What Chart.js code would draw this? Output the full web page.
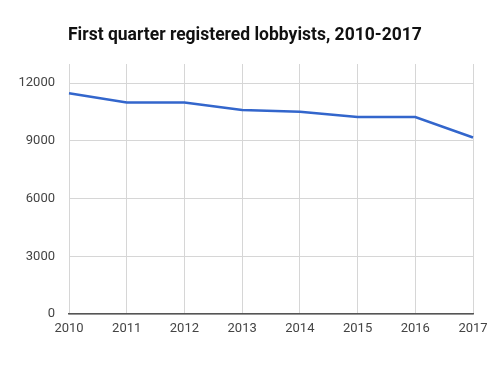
<!DOCTYPE html>
<html>
<head>
<meta charset="utf-8">
<script src="https://cdn.jsdelivr.net/npm/chart.js@4"></script>
<style>
    body { margin: 0; background: #fff; }
    #wrap { position: relative; width: 496px; height: 366px; }
    #title {
        position: absolute; left: 68px; top: 24px;
        font: bold 17.5px Roboto, sans-serif; color: #111;
    }
</style>
</head>
<body>
<div id="wrap">
    <div id="title">First quarter registered lobbyists, 2010-2017</div>
    <canvas id="chart" width="496" height="366"></canvas>
</div>
<script>
const years = ['2010', '2011', '2012', '2013', '2014', '2015', '2016', '2017']
const lobbyists = [11480, 11000, 11000, 10610, 10520, 10240, 10240, 9180]
const yTicks = [0, 3000, 6000, 9000, 12000]

const tickFont = {family: 'Roboto', size: 13}

new Chart(document.getElementById('chart').getContext('2d'), {
    type: 'line',
    data: {
        labels: years,
        datasets: [{
            data: lobbyists,
            borderColor: '#3366cc',
            borderWidth: 2.5,
            pointRadius: 0,
            tension: 0,
        }]
    },
    options: {
        responsive: false,
        animation: false,
        layout: {padding: {top: 64, left: 10, right: 23, bottom: 0}},
        plugins: {legend: {display: false}, tooltip: {enabled: false}},
        scales: {
            x: {
                grid: {color: '#d6d6d6', drawTicks: false},
                border: {color: '#555', width: 1.5},
                ticks: {color: '#444', font: tickFont, padding: 7, maxRotation: 0},
                afterFit: (scale) => { scale.height = 52 }
            },
            y: {
                min: 0,
                max: 13000,
                grid: {color: '#d6d6d6', drawTicks: false},
                border: {display: false},
                afterBuildTicks: (scale) => { scale.ticks = yTicks.map(v => ({value: v})) },
                ticks: {color: '#444', font: tickFont, padding: 14, callback: (v) => String(v)},
                afterFit: (scale) => { scale.width = 59 }
            }
        }
    }
})
</script>
</body>
</html>
